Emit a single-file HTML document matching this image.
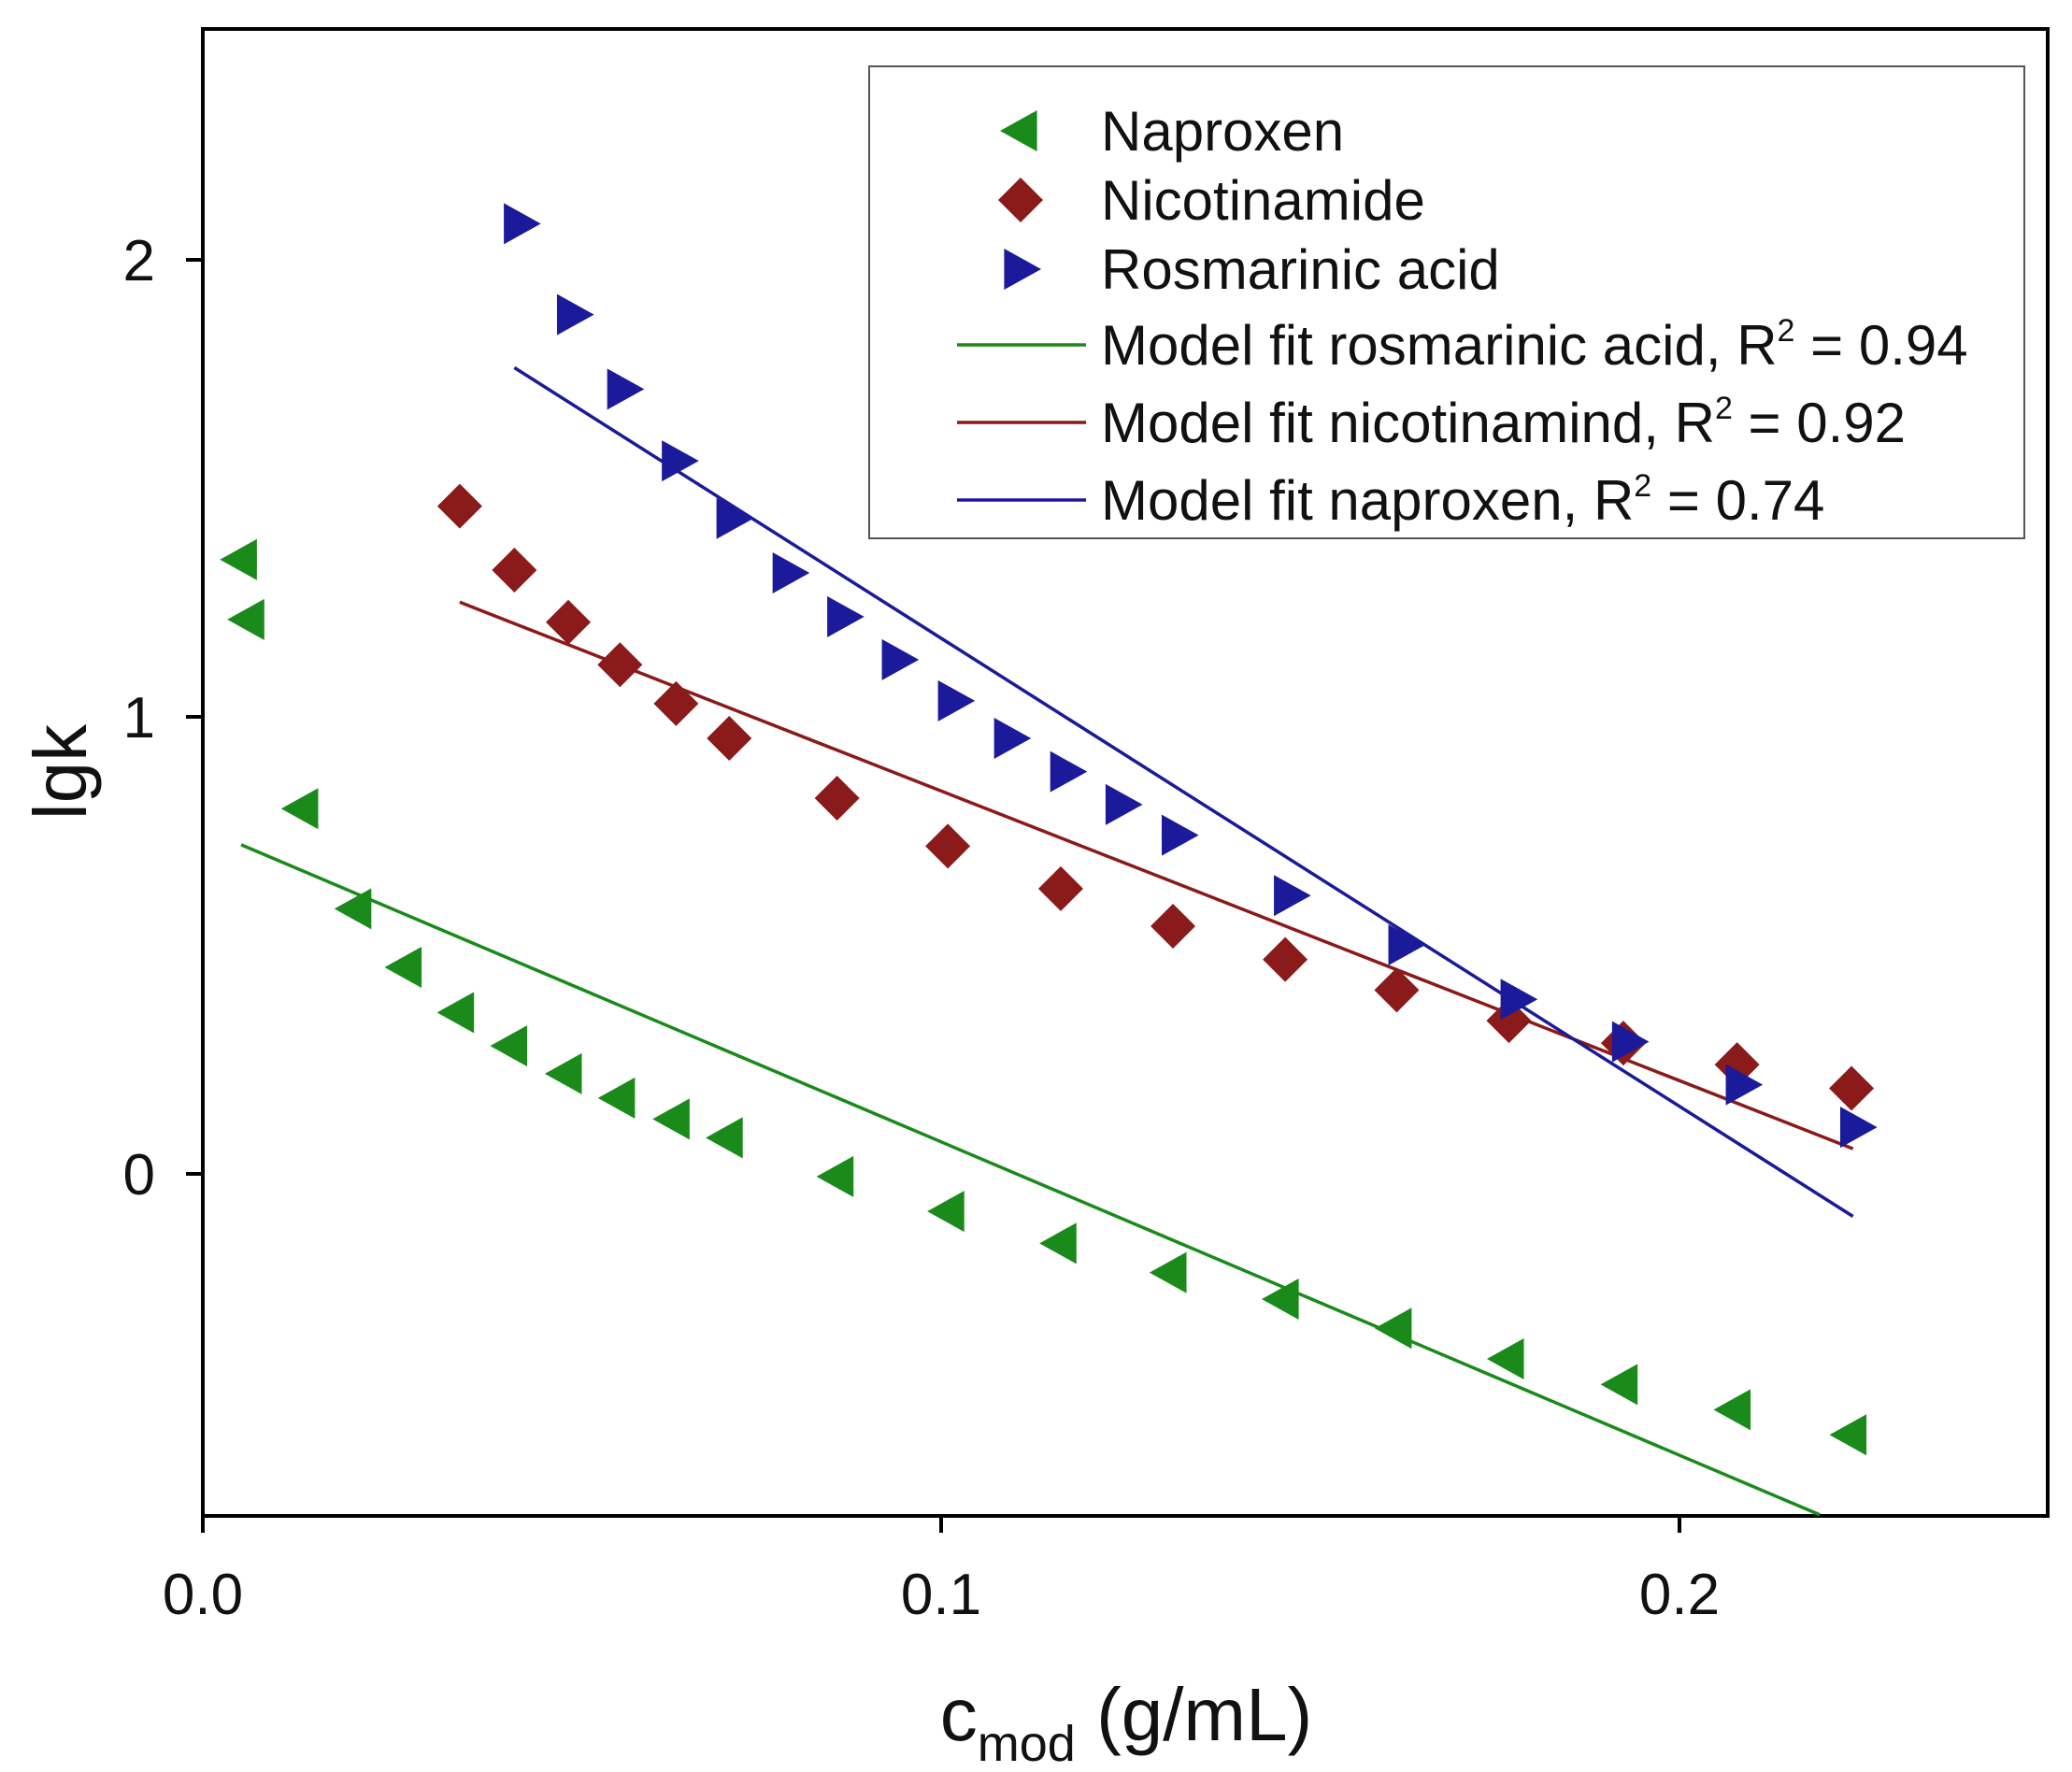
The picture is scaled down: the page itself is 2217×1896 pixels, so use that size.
<!DOCTYPE html>
<html><head><meta charset="utf-8"><style>
html,body{margin:0;padding:0;background:#fff}
svg{display:block}
text{font-family:"Liberation Sans",Arial,sans-serif;fill:#111}
</style></head><body>
<svg id="chart" width="2217" height="1896" viewBox="0 0 2217 1896" xmlns="http://www.w3.org/2000/svg">
<g id="plot"></g>
</svg>
<script>
const napX=[0.0051,0.0061,0.0134,0.0206,0.0274,0.0345,0.0417,0.0491,0.0563,0.0637,0.0709,0.0859,0.1009,0.1161,0.1310,0.1462,0.1615,0.1767,0.1921,0.2074,0.2231];
const napY=[1.344,1.213,0.799,0.580,0.452,0.353,0.280,0.219,0.166,0.120,0.079,-0.006,-0.082,-0.152,-0.216,-0.274,-0.338,-0.405,-0.461,-0.516,-0.571];
const nicX=[0.0348,0.0422,0.0495,0.0565,0.0641,0.0713,0.0859,0.1009,0.1162,0.1314,0.1466,0.1617,0.1769,0.1924,0.2078,0.2233];
const nicY=[1.461,1.321,1.207,1.114,1.029,0.953,0.822,0.717,0.624,0.542,0.469,0.402,0.335,0.286,0.239,0.187];
const rosX=[0.0430,0.0502,0.0570,0.0644,0.0718,0.0794,0.0868,0.0942,0.1018,0.1094,0.1170,0.1245,0.1321,0.1473,0.1628,0.1780,0.1931,0.2085,0.2240];
const rosY=[2.079,1.880,1.717,1.560,1.434,1.315,1.219,1.125,1.035,0.953,0.880,0.808,0.741,0.609,0.501,0.382,0.289,0.195,0.102];
const fitGreenX=[0.0052,0.2190], fitGreenY=[0.720,-0.746];
const fitRedX=[0.0348,0.2235], fitRedY=[1.251,0.055];
const fitBlueX=[0.0422,0.2235], fitBlueY=[1.764,-0.093];
const xTicks=[0,0.1,0.2], xTickLabels=["0.0","0.1","0.2"];
const yTicks=[0,1,2], yTickLabels=["0","1","2"];

const L=217,R=2191,T=31,B=1622;
const sx=v=>L+v*7900;
const sy=v=>1256-v*489;
const NS="http://www.w3.org/2000/svg";
const g=document.getElementById('plot');
function mk(tag,attrs,parent){const e=document.createElementNS(NS,tag);for(const k in attrs)e.setAttribute(k,attrs[k]);(parent||g).appendChild(e);return e;}

let ax=mk('rect',{x:L,y:T,width:R-L,height:B-T,fill:'none',stroke:'#000','stroke-width':4});



xTicks.forEach((v,i)=>{
  const t=mk('line',{x1:sx(v),x2:sx(v),y1:B,y2:B+18,stroke:'#000','stroke-width':4});
  
  
  const tx=mk('text',{x:sx(v),y:1727,'font-size':62,'text-anchor':'middle'});
  tx.textContent=xTickLabels[i];
  
  
});
yTicks.forEach((v,i)=>{
  const t=mk('line',{x1:L-18,x2:L,y1:sy(v),y2:sy(v),stroke:'#000','stroke-width':4});
  
  
  const tx=mk('text',{x:166,y:sy(v)+22,'font-size':62,'text-anchor':'end'});
  tx.textContent=yTickLabels[i];
  
  
});

function line(xs,ys,color,name){
  const l=mk('line',{x1:sx(xs[0]),y1:sy(ys[0]),x2:sx(xs[1]),y2:sy(ys[1]),stroke:color,'stroke-width':3.5});
  
  
}
line(fitGreenX,fitGreenY,'#1a8a1a','fit-line-green');
line(fitRedX,fitRedY,'#8b1a1a','fit-line-red');
line(fitBlueX,fitBlueY,'#1a1a9a','fit-line-blue');

function triL(cx,cy,c,parent){const s=22;return mk('polygon',{points:`${cx-s},${cy} ${cx+s*0.8},${cy-s} ${cx+s*0.8},${cy+s}`,fill:c},parent);}
function triR(cx,cy,c,parent){const s=22;return mk('polygon',{points:`${cx+s},${cy} ${cx-s*0.8},${cy-s} ${cx-s*0.8},${cy+s}`,fill:c},parent);}
function dia(cx,cy,c,parent){const s=24;return mk('polygon',{points:`${cx},${cy-s} ${cx+s},${cy} ${cx},${cy+s} ${cx-s},${cy}`,fill:c},parent);}

napX.forEach((x,i)=>{const p=triL(sx(x),sy(napY[i]),'#1a8a1a');
  
  });
nicX.forEach((x,i)=>{const p=dia(sx(x),sy(nicY[i]),'#8b1a1a');
  
  });
rosX.forEach((x,i)=>{const p=triR(sx(x),sy(rosY[i]),'#1a1a9a');
  
  });

const lg=mk('g',{});


mk('rect',{x:930,y:71,width:1236,height:505,fill:'#fff',stroke:'#555','stroke-width':2},lg);
const ly=[140,214,288,369,452,535];
let e;
e=triL(1092,ly[0],'#1a8a1a',lg);
e=dia(1092,ly[1],'#8b1a1a',lg);
e=triR(1092,ly[2],'#1a1a9a',lg);
['#1a8a1a','#8b1a1a','#1a1a9a'].forEach((c,i)=>{
  const l=mk('line',{x1:1024,x2:1162,y1:ly[3+i],y2:ly[3+i],stroke:c,'stroke-width':3.5},lg);
  
  
});
</script>
<svg style="position:absolute;left:0;top:0" width="2217" height="1896" viewBox="0 0 2217 1896" xmlns="http://www.w3.org/2000/svg">
<g font-size="60">
<text x="1178" y="161">Naproxen</text>
<text x="1178" y="235">Nicotinamide</text>
<text x="1178" y="309">Rosmarinic acid</text>
<text x="1178" y="390">Model fit rosmarinic acid, R<tspan font-size="34" dy="-25">2</tspan><tspan dy="25"> = 0.94</tspan></text>
<text x="1178" y="473">Model fit nicotinamind, R<tspan font-size="34" dy="-25">2</tspan><tspan dy="25"> = 0.92</tspan></text>
<text x="1178" y="556">Model fit naproxen, R<tspan font-size="34" dy="-25">2</tspan><tspan dy="25"> = 0.74</tspan></text>
</g>
<text font-size="80" text-anchor="middle" transform="translate(92,826) rotate(-90)">lgk</text>
<text font-size="80" text-anchor="middle" x="1205" y="1862">c<tspan font-size="54" dy="22">mod</tspan><tspan dy="-22"> (g/mL)</tspan></text>
</svg>
</body></html>
